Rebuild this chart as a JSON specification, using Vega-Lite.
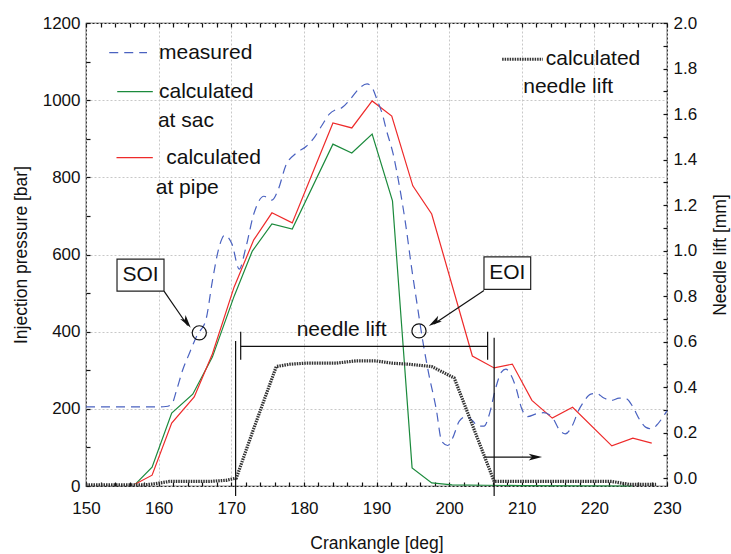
{
  "$schema": "https://vega.github.io/schema/vega-lite/v6.json",
  "width": 581,
  "height": 463,
  "padding": {"left": 12, "top": 14, "right": 5, "bottom": 5},
  "config": {
    "view": {"stroke": "#222", "strokeWidth": 1.2},
    "font": "Liberation Sans",
    "axis": {
      "domain": false, "ticks": true, "tickColor": "#111", "tickOpacity": 1, "tickWidth": 1.2,
      "labelColor": "#111", "titleColor": "#111", "zindex": 1,
      "labelFont": "Liberation Sans", "titleFont": "Liberation Sans",
      "labelFontSize": 17, "titleFontSize": 17.5, "titleFontWeight": "normal",
      "gridDash": [2, 2], "labelOverlap": false, "labelFlush": false, "labelBound": false
    }
  },
  "datasets": {
    "pressure": [
      {"series": "measured", "x": 150, "y": 205}, {"series": "measured", "x": 155, "y": 205},
      {"series": "measured", "x": 160, "y": 205}, {"series": "measured", "x": 161, "y": 206},
      {"series": "measured", "x": 161.8, "y": 212}, {"series": "measured", "x": 162.5, "y": 250},
      {"series": "measured", "x": 163.3, "y": 300}, {"series": "measured", "x": 164.2, "y": 342},
      {"series": "measured", "x": 165.3, "y": 391}, {"series": "measured", "x": 166.5, "y": 430},
      {"series": "measured", "x": 167.4, "y": 531}, {"series": "measured", "x": 168.3, "y": 617},
      {"series": "measured", "x": 169.1, "y": 650}, {"series": "measured", "x": 170.1, "y": 627},
      {"series": "measured", "x": 171.1, "y": 562}, {"series": "measured", "x": 172, "y": 617},
      {"series": "measured", "x": 173.1, "y": 705}, {"series": "measured", "x": 174.5, "y": 751},
      {"series": "measured", "x": 175.6, "y": 741}, {"series": "measured", "x": 176.5, "y": 770},
      {"series": "measured", "x": 177.5, "y": 830}, {"series": "measured", "x": 178.9, "y": 862},
      {"series": "measured", "x": 180.3, "y": 880}, {"series": "measured", "x": 181.5, "y": 905},
      {"series": "measured", "x": 182.5, "y": 935}, {"series": "measured", "x": 183.5, "y": 964},
      {"series": "measured", "x": 184.5, "y": 976}, {"series": "measured", "x": 185.2, "y": 980},
      {"series": "measured", "x": 186.5, "y": 1005}, {"series": "measured", "x": 187.6, "y": 1030},
      {"series": "measured", "x": 188.7, "y": 1042}, {"series": "measured", "x": 189.4, "y": 1032},
      {"series": "measured", "x": 190.1, "y": 1000}, {"series": "measured", "x": 190.8, "y": 964},
      {"series": "measured", "x": 191.4, "y": 920}, {"series": "measured", "x": 192.3, "y": 860},
      {"series": "measured", "x": 193.1, "y": 783}, {"series": "measured", "x": 194, "y": 680},
      {"series": "measured", "x": 194.8, "y": 570}, {"series": "measured", "x": 195.6, "y": 470},
      {"series": "measured", "x": 196.3, "y": 384}, {"series": "measured", "x": 197.2, "y": 290},
      {"series": "measured", "x": 198.2, "y": 202}, {"series": "measured", "x": 199, "y": 115},
      {"series": "measured", "x": 199.8, "y": 105}, {"series": "measured", "x": 200.5, "y": 125},
      {"series": "measured", "x": 201.4, "y": 168}, {"series": "measured", "x": 202.3, "y": 180},
      {"series": "measured", "x": 203.2, "y": 170}, {"series": "measured", "x": 204, "y": 155},
      {"series": "measured", "x": 204.8, "y": 155}, {"series": "measured", "x": 205.6, "y": 190},
      {"series": "measured", "x": 206.3, "y": 246}, {"series": "measured", "x": 207.2, "y": 295},
      {"series": "measured", "x": 207.8, "y": 303}, {"series": "measured", "x": 208.5, "y": 288},
      {"series": "measured", "x": 209.2, "y": 255}, {"series": "measured", "x": 210, "y": 200},
      {"series": "measured", "x": 210.8, "y": 180}, {"series": "measured", "x": 212, "y": 187},
      {"series": "measured", "x": 213, "y": 190}, {"series": "measured", "x": 214.2, "y": 178},
      {"series": "measured", "x": 215.2, "y": 145}, {"series": "measured", "x": 216, "y": 135},
      {"series": "measured", "x": 217, "y": 158}, {"series": "measured", "x": 217.8, "y": 195},
      {"series": "measured", "x": 218.6, "y": 220}, {"series": "measured", "x": 219.5, "y": 238},
      {"series": "measured", "x": 220.3, "y": 240}, {"series": "measured", "x": 221.3, "y": 228},
      {"series": "measured", "x": 222.4, "y": 222}, {"series": "measured", "x": 223.4, "y": 228},
      {"series": "measured", "x": 224.4, "y": 226}, {"series": "measured", "x": 225.3, "y": 205},
      {"series": "measured", "x": 226.1, "y": 176}, {"series": "measured", "x": 227.1, "y": 152},
      {"series": "measured", "x": 227.9, "y": 148}, {"series": "measured", "x": 228.6, "y": 158},
      {"series": "measured", "x": 229.3, "y": 175}, {"series": "measured", "x": 230, "y": 195},

      {"series": "sac", "x": 156.8, "y": 5}, {"series": "sac", "x": 159.1, "y": 49},
      {"series": "sac", "x": 161.8, "y": 189}, {"series": "sac", "x": 164.7, "y": 238},
      {"series": "sac", "x": 167.4, "y": 334}, {"series": "sac", "x": 170.4, "y": 492},
      {"series": "sac", "x": 172.9, "y": 609}, {"series": "sac", "x": 175.6, "y": 679},
      {"series": "sac", "x": 178.4, "y": 666}, {"series": "sac", "x": 184, "y": 886},
      {"series": "sac", "x": 186.6, "y": 863}, {"series": "sac", "x": 189.4, "y": 912},
      {"series": "sac", "x": 192.2, "y": 739}, {"series": "sac", "x": 194.9, "y": 47},
      {"series": "sac", "x": 197.6, "y": 8}, {"series": "sac", "x": 200.4, "y": 3},
      {"series": "sac", "x": 205, "y": 2}, {"series": "sac", "x": 210, "y": 1},
      {"series": "sac", "x": 225.2, "y": 0},

      {"series": "pipe", "x": 156.8, "y": 5}, {"series": "pipe", "x": 159.1, "y": 28},
      {"series": "pipe", "x": 161.8, "y": 163}, {"series": "pipe", "x": 164.9, "y": 231},
      {"series": "pipe", "x": 167.4, "y": 342}, {"series": "pipe", "x": 170.4, "y": 516},
      {"series": "pipe", "x": 173.1, "y": 638}, {"series": "pipe", "x": 175.6, "y": 708},
      {"series": "pipe", "x": 178.4, "y": 682}, {"series": "pipe", "x": 184, "y": 941},
      {"series": "pipe", "x": 186.6, "y": 928}, {"series": "pipe", "x": 189.4, "y": 998},
      {"series": "pipe", "x": 192.1, "y": 959}, {"series": "pipe", "x": 195, "y": 778},
      {"series": "pipe", "x": 197.6, "y": 705}, {"series": "pipe", "x": 203.2, "y": 337},
      {"series": "pipe", "x": 206.2, "y": 306}, {"series": "pipe", "x": 208.7, "y": 316},
      {"series": "pipe", "x": 211.4, "y": 222}, {"series": "pipe", "x": 214.2, "y": 176},
      {"series": "pipe", "x": 217, "y": 204}, {"series": "pipe", "x": 222.4, "y": 104},
      {"series": "pipe", "x": 225.3, "y": 124}, {"series": "pipe", "x": 227.9, "y": 111}
    ],
    "lift": [
      {"x": 150, "y": -0.03}, {"x": 152, "y": -0.03}, {"x": 154, "y": -0.03}, {"x": 156, "y": -0.03},
      {"x": 158, "y": -0.03}, {"x": 159.5, "y": -0.025}, {"x": 161.5, "y": -0.015}, {"x": 164, "y": -0.015},
      {"x": 167, "y": -0.015}, {"x": 169.3, "y": -0.01}, {"x": 170.7, "y": 0.0}, {"x": 172.9, "y": 0.2},
      {"x": 176.2, "y": 0.49}, {"x": 178, "y": 0.5}, {"x": 180.3, "y": 0.505}, {"x": 184.4, "y": 0.505},
      {"x": 187.2, "y": 0.515}, {"x": 189.9, "y": 0.515}, {"x": 192.1, "y": 0.505}, {"x": 194.5, "y": 0.5},
      {"x": 197.6, "y": 0.49}, {"x": 200.7, "y": 0.44}, {"x": 206.2, "y": -0.015}, {"x": 210, "y": -0.015},
      {"x": 215, "y": -0.015}, {"x": 222.4, "y": -0.015}, {"x": 224.8, "y": -0.028}, {"x": 228.5, "y": -0.028}
    ],
    "legendSamples": [
      {"series": "measured", "x": 153.2, "x2": 158.4, "y": 1123},
      {"series": "sac", "x": 154.3, "x2": 159.2, "y": 1022},
      {"series": "pipe", "x": 154.2, "x2": 159.2, "y": 851}
    ],
    "leftText": [
      {"t": "measured", "x": 160.05, "y": 1123},
      {"t": "calculated", "x": 160.05, "y": 1022},
      {"t": "at sac", "x": 159.9, "y": 946},
      {"t": "calculated", "x": 161.05, "y": 851},
      {"t": "at pipe", "x": 159.6, "y": 773},
      {"t": "calculated", "x": 213.3, "y": 1106},
      {"t": "needle lift", "x": 210.2, "y": 1034}
    ],
    "centerText": [
      {"t": "SOI", "x": 157.5, "y": 547},
      {"t": "EOI", "x": 208.0, "y": 552},
      {"t": "needle lift", "x": 185.2, "y": 404}
    ],
    "rules": [
      {"x": 170.6, "y": 376, "x2": 170.6, "y2": -26},
      {"x": 171.3, "y": 400, "x2": 171.3, "y2": 327},
      {"x": 171.3, "y": 362, "x2": 205.3, "y2": 362},
      {"x": 205.3, "y": 400, "x2": 205.3, "y2": 327},
      {"x": 206.2, "y": 384, "x2": 206.2, "y2": -26},
      {"x": 204.8, "y": 75, "x2": 212.0, "y2": 75},
      {"x": 160.74, "y": 505, "x2": 164.0, "y2": 416},
      {"x": 204.8, "y": 507, "x2": 197.9, "y2": 420}
    ],
    "heads": [
      {"x": 212.8, "y": 75, "ang": 90},
      {"x": 164.42, "y": 410, "ang": 144},
      {"x": 197.2, "y": 415, "ang": 237}
    ],
    "circles": [
      {"x": 165.6, "y": 397},
      {"x": 195.85, "y": 402}
    ],
    "boxes": [
      {"x": 154.27, "x2": 160.74, "y": 505, "y2": 588},
      {"x": 204.8, "x2": 211.23, "y": 509.8, "y2": 593.6}
    ]
  },
  "resolve": {"scale": {"y": "independent"}, "axis": {"x": "independent"}},
  "layer": [
    {
      "layer": [
        {
          "data": {"name": "pressure"},
          "transform": [{"filter": "datum.series !== 'measured'"}],
          "mark": {"type": "line", "strokeWidth": 1.2},
          "encoding": {
            "x": {
              "field": "x", "type": "quantitative",
              "scale": {"domain": [150, 230], "nice": false, "zero": false},
              "axis": {
                "orient": "bottom", "title": "Crankangle [deg]",
                "values": [150,152,154,156,158,160,162,164,166,168,170,172,174,176,178,180,182,184,186,188,190,192,194,196,198,200,202,204,206,208,210,212,214,216,218,220,222,224,226,228,230],
                "tickCount": 200,
                "labelExpr": "datum.value % 10 === 0 ? datum.label : ''",
                "format": "d",
                "offset": -4, "tickSize": 4,
                "labelPadding": 14, "titlePadding": 18,
                "grid": true,
                "gridColor": {"condition": {"test": "datum.value % 10 === 0", "value": "#c8c8c8"}, "value": "transparent"}
              }
            },
            "y": {
              "field": "y", "type": "quantitative",
              "scale": {"domain": [0, 1200], "nice": false, "zero": false},
              "axis": {
                "orient": "left", "title": "Injection pressure [bar]",
                "values": [0,100,200,300,400,500,600,700,800,900,1000,1100,1200],
                "tickCount": 200,
                "labelExpr": "datum.value % 200 === 0 ? datum.label : ''",
                "format": "d",
                "offset": -4, "tickSize": 4,
                "labelPadding": 6, "titlePadding": 12,
                "grid": true,
                "gridColor": {"condition": {"test": "datum.value % 200 === 0", "value": "#c8c8c8"}, "value": "transparent"}
              }
            },
            "color": {
              "field": "series", "type": "nominal",
              "scale": {"domain": ["measured", "sac", "pipe"], "range": ["#4a62c0", "#1b8a3c", "#ee2a2a"]},
              "legend": null
            },
            "detail": {"field": "series"}
          }
        },
        {
          "data": {"name": "pressure"},
          "transform": [{"filter": "datum.series === 'measured'"}],
          "mark": {"type": "line", "strokeWidth": 1.2, "strokeDash": [9, 6], "interpolate": "monotone"},
          "encoding": {
            "x": {"field": "x", "type": "quantitative"},
            "y": {"field": "y", "type": "quantitative"},
            "color": {"field": "series", "type": "nominal", "legend": null}
          }
        },
        {
          "data": {"name": "legendSamples"},
          "transform": [{"filter": "datum.series !== 'measured'"}],
          "mark": {"type": "rule", "strokeWidth": 1.2},
          "encoding": {
            "x": {"field": "x", "type": "quantitative"},
            "x2": {"field": "x2"},
            "y": {"field": "y", "type": "quantitative"},
            "color": {"field": "series", "type": "nominal", "legend": null}
          }
        },
        {
          "data": {"name": "legendSamples"},
          "transform": [{"filter": "datum.series === 'measured'"}],
          "mark": {"type": "rule", "strokeWidth": 1.2, "strokeDash": [9, 6]},
          "encoding": {
            "x": {"field": "x", "type": "quantitative"},
            "x2": {"field": "x2"},
            "y": {"field": "y", "type": "quantitative"},
            "color": {"field": "series", "type": "nominal", "legend": null}
          }
        },
        {
          "data": {"values": [{"x": 207.3, "x2": 212.9, "y": 1106}]},
          "mark": {"type": "rule", "strokeWidth": 3, "strokeDash": [1.5, 1], "color": "#333"},
          "encoding": {
            "x": {"field": "x", "type": "quantitative"},
            "x2": {"field": "x2"},
            "y": {"field": "y", "type": "quantitative"}
          }
        },
        {
          "data": {"name": "rules"},
          "mark": {"type": "rule", "strokeWidth": 1.2, "color": "#111"},
          "encoding": {
            "x": {"field": "x", "type": "quantitative"},
            "x2": {"field": "x2"},
            "y": {"field": "y", "type": "quantitative"},
            "y2": {"field": "y2"}
          }
        },
        {
          "data": {"name": "heads"},
          "mark": {"type": "point", "shape": "M0,0L0.4,1.6L0,1.2L-0.4,1.6Z", "filled": true, "color": "#111", "size": 280, "opacity": 1},
          "encoding": {
            "x": {"field": "x", "type": "quantitative"},
            "y": {"field": "y", "type": "quantitative"},
            "angle": {"field": "ang", "type": "quantitative", "scale": null}
          }
        },
        {
          "data": {"name": "circles"},
          "mark": {"type": "point", "shape": "circle", "filled": false, "color": "#111", "size": 200, "strokeWidth": 1.2, "opacity": 1},
          "encoding": {
            "x": {"field": "x", "type": "quantitative"},
            "y": {"field": "y", "type": "quantitative"}
          }
        },
        {
          "data": {"name": "boxes"},
          "mark": {"type": "rect", "fill": "white", "stroke": "#222", "strokeWidth": 1.2},
          "encoding": {
            "x": {"field": "x", "type": "quantitative"},
            "x2": {"field": "x2"},
            "y": {"field": "y", "type": "quantitative"},
            "y2": {"field": "y2"}
          }
        },
        {
          "data": {"name": "leftText"},
          "mark": {"type": "text", "align": "left", "baseline": "middle", "fontSize": 21, "color": "#111", "font": "Liberation Sans"},
          "encoding": {
            "x": {"field": "x", "type": "quantitative"},
            "y": {"field": "y", "type": "quantitative"},
            "text": {"field": "t"}
          }
        },
        {
          "data": {"name": "centerText"},
          "mark": {"type": "text", "align": "center", "baseline": "middle", "fontSize": 21, "color": "#111", "font": "Liberation Sans"},
          "encoding": {
            "x": {"field": "x", "type": "quantitative"},
            "y": {"field": "y", "type": "quantitative"},
            "text": {"field": "t"}
          }
        }
      ]
    },
    {
      "data": {"name": "lift"},
      "mark": {"type": "line", "strokeWidth": 3.2, "strokeDash": [1.5, 1], "color": "#333"},
      "encoding": {
        "x": {
          "field": "x", "type": "quantitative",
          "axis": {
            "orient": "top", "title": null, "labels": false, "grid": false,
            "values": [150,152,154,156,158,160,162,164,166,168,170,172,174,176,178,180,182,184,186,188,190,192,194,196,198,200,202,204,206,208,210,212,214,216,218,220,222,224,226,228,230],
            "tickCount": 200,
            "offset": -4, "tickSize": 4
          }
        },
        "y": {
          "field": "y", "type": "quantitative",
          "scale": {"domain": [-0.035, 2.0], "nice": false, "zero": false},
          "axis": {
            "orient": "right", "title": "Needle lift [mm]", "grid": false, "titleAngle": 270,
            "values": [0,0.1,0.2,0.3,0.4,0.5,0.6,0.7,0.8,0.9,1.0,1.1,1.2,1.3,1.4,1.5,1.6,1.7,1.8,1.9,2.0],
            "tickCount": 200,
            "labelExpr": "round(datum.value*10) % 2 === 0 ? format(datum.value, '.1f') : ''",
            "offset": -4, "tickSize": 4,
            "labelPadding": 6, "titlePadding": 33
          }
        }
      }
    }
  ]
}
